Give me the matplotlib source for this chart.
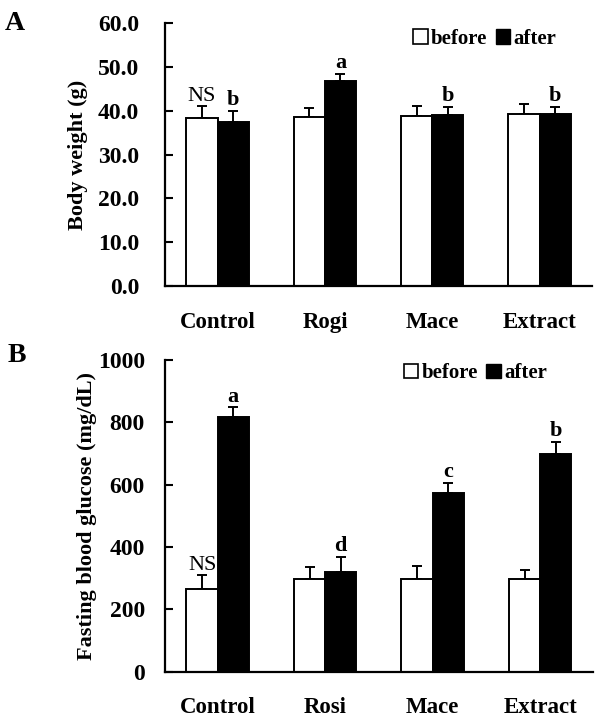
import matplotlib
matplotlib.use('Agg')
import matplotlib.pyplot as plt
import numpy as np
from matplotlib.patches import Patch

# Panel A: body weight (g)
groups_a = ['Control', 'Rogi', 'Mace', 'Extract']
bw_before = [38.3, 38.6, 38.7, 39.2]
bw_before_err = [2.7, 2.0, 2.3, 2.3]
bw_after = [37.5, 46.7, 39.1, 39.3]
bw_after_err = [2.5, 1.7, 1.8, 1.5]
bw_before_lbl = ['NS', '', '', '']
bw_after_lbl = ['b', 'a', 'b', 'b']

# Panel B: fasting blood glucose (mg/dL)
groups_b = ['Control', 'Rosi', 'Mace', 'Extract']
fbg_before = [264, 296, 296, 296]
fbg_before_err = [45, 41, 44, 31]
fbg_after = [817, 321, 574, 700]
fbg_after_err = [31, 47, 32, 37]
fbg_before_lbl = ['NS', '', '', '']
fbg_after_lbl = ['a', 'd', 'c', 'b']

plt.rcParams['font.family'] = ['Liberation Serif', 'DejaVu Serif']
plt.rcParams['font.weight'] = 'bold'

fig = plt.figure(figsize=(6.0, 7.19), dpi=100)
ax_a = fig.add_axes([0.275, 0.6026, 0.712, 0.365])
ax_b = fig.add_axes([0.275, 0.0658, 0.713, 0.4335])

W = 0.29


def draw_panel(ax, groups, before, before_err, after, after_err,
               before_lbl, after_lbl, ymax, ystep, fmt, ylabel, lbl_pad, ypad, xpad, leg_anchor):
    x = np.arange(len(groups))
    ax.bar(x - W / 2, before, W, color='white', edgecolor='black', linewidth=1.4, zorder=2)
    ax.bar(x + W / 2, after, W, color='black', edgecolor='black', linewidth=1.4, zorder=2)
    ax.errorbar(x - W / 2, before, yerr=[np.zeros(len(x)), before_err], fmt='none',
                ecolor='black', elinewidth=1.4, capsize=3.5, capthick=1.4, zorder=1)
    ax.errorbar(x + W / 2, after, yerr=[np.zeros(len(x)), after_err], fmt='none',
                ecolor='black', elinewidth=1.4, capsize=3.5, capthick=1.4, zorder=1)

    for i in range(len(x)):
        if before_lbl[i]:
            ax.text(x[i] - W / 2, before[i] + before_err[i] + lbl_pad, before_lbl[i],
                    ha='center', va='bottom', fontsize=16, fontweight='normal')
        if after_lbl[i]:
            ax.text(x[i] + W / 2, after[i] + after_err[i] + lbl_pad, after_lbl[i],
                    ha='center', va='bottom', fontsize=16, fontweight='bold')

    ticks = np.arange(0, ymax + ystep / 2, ystep)
    ax.set_xlim(-0.49, 3.49)
    ax.set_ylim(0, ymax)
    ax.set_yticks(ticks)
    ax.set_yticklabels([fmt.format(v) for v in ticks])
    ax.set_xticks(x)
    ax.set_xticklabels(groups)
    ax.tick_params(axis='x', length=0, pad=xpad, labelsize=16.5)
    ax.tick_params(axis='y', direction='in', length=6, width=1.5, pad=ypad, labelsize=17)
    for s in ['top', 'right']:
        ax.spines[s].set_visible(False)
    for s in ['left', 'bottom']:
        ax.spines[s].set_linewidth(1.6)
    ax.set_ylabel(ylabel, fontsize=16, fontweight='bold')

    handles = [Patch(facecolor='white', edgecolor='black', linewidth=1.2, label='before'),
               Patch(facecolor='black', edgecolor='black', label='after')]
    ax.legend(handles=handles, ncol=2, frameon=False, loc='center right',
              bbox_to_anchor=leg_anchor, handlelength=0.7, handleheight=0.7,
              handletextpad=0.15, columnspacing=0.4, borderaxespad=0,
              prop={'size': 15, 'weight': 'bold'})


draw_panel(ax_a, groups_a, bw_before, bw_before_err, bw_after, bw_after_err,
           bw_before_lbl, bw_after_lbl, 60, 10, '{:.1f}', 'Body weight (g)', 0.2, 18.5, 19,
           (0.935, 0.94))
draw_panel(ax_b, groups_b, fbg_before, fbg_before_err, fbg_after, fbg_after_err,
           fbg_before_lbl, fbg_after_lbl, 1000, 200, '{:.0f}', 'Fasting blood glucose (mg/dL)',
           2, 14.5, 18, (0.912, 0.958))

ax_a.yaxis.set_label_coords(-0.18, 0.5)
ax_b.yaxis.set_label_coords(-0.159, 0.5)

fig.text(0.008, 0.967, 'A', fontsize=20, fontweight='bold', va='center', ha='left')
fig.text(0.012, 0.506, 'B', fontsize=20, fontweight='bold', va='center', ha='left')

fig.savefig('out.png', dpi=100, facecolor='white')
